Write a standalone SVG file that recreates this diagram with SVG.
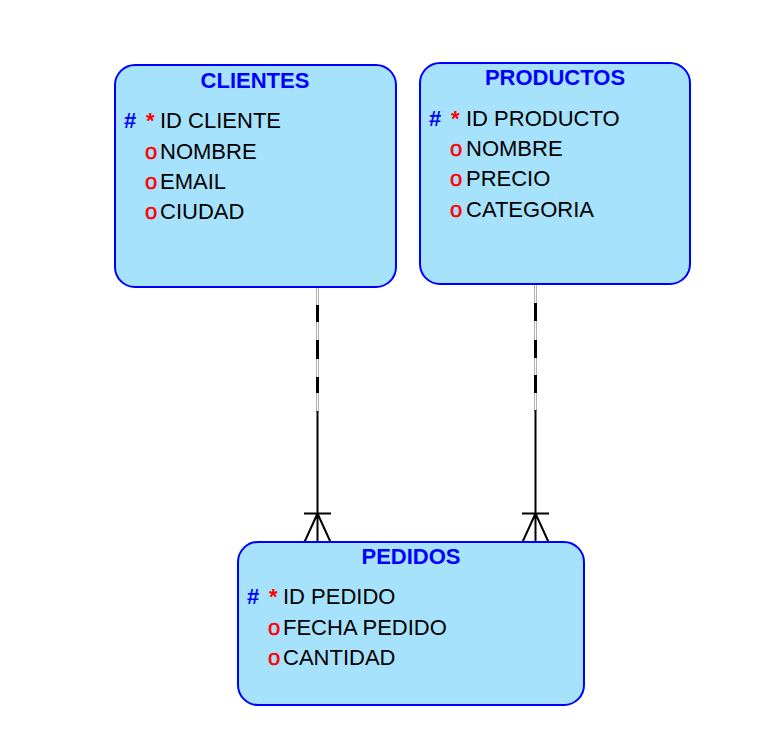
<svg xmlns="http://www.w3.org/2000/svg" width="773" height="756" viewBox="0 0 773 756">
<style>
.box{fill:#a6e2fc;stroke:#0000ff;stroke-width:2}
.t{font-family:"Liberation Sans",Arial,sans-serif;font-size:22px;font-weight:bold;fill:#0000ff;text-anchor:middle}
.a{font-family:"Liberation Sans",Arial,sans-serif;font-size:22px;fill:#000}
.h{font-family:"Liberation Sans",Arial,sans-serif;font-size:22px;font-weight:bold;fill:#0000ff}
.s{font-family:"Liberation Sans",Arial,sans-serif;font-size:22px;font-weight:bold;fill:#ff0000}
.o{font-family:"Liberation Sans",Arial,sans-serif;font-size:22px;fill:#ff0000;stroke:#ff0000;stroke-width:0.5}
.g1{stroke:#b0b0b0;stroke-width:3;fill:none}
.g2{stroke:#fff;stroke-width:1;fill:none}
.ln{stroke:#000;stroke-width:2;fill:none}
.dash{stroke:#000;stroke-width:3;fill:none}
</style>
<rect width="773" height="756" fill="#fff"/>
<g id="connectors">
<g id="c1">
<line class="g1" x1="317.5" y1="288" x2="317.5" y2="412"/>
<line class="g2" x1="317.5" y1="288" x2="317.5" y2="412"/>
<path class="dash" d="M317.5 305V322M317.5 340V359M317.5 377V393"/>
<path class="ln" d="M317.5 411V542M304 513.5H331M317.5 513.5L304.5 542M317.5 513.5L330.5 542"/>
</g>
<g id="c2">
<line class="g1" x1="535.5" y1="285" x2="535.5" y2="411"/>
<line class="g2" x1="535.5" y1="285" x2="535.5" y2="411"/>
<path class="dash" d="M535.5 303V321M535.5 340V358M535.5 375V393"/>
<path class="ln" d="M535.5 410V542M522 513.5H549M535.5 513.5L522.5 542M535.5 513.5L548.5 542"/>
</g>
</g>
<g id="clientes">
<rect class="box" x="115" y="65" width="281" height="222" rx="20"/>
<text class="t" x="255" y="88">CLIENTES</text>
<text class="h" x="124" y="128">#</text><text class="s" x="146" y="128">*</text><text class="a" x="160" y="128">ID CLIENTE</text>
<text class="o" x="145" y="159">o</text><text class="a" x="160" y="159">NOMBRE</text>
<text class="o" x="145" y="189">o</text><text class="a" x="160" y="189">EMAIL</text>
<text class="o" x="145" y="219">o</text><text class="a" x="160" y="219">CIUDAD</text>
</g>
<g id="productos">
<rect class="box" x="420" y="63" width="270" height="221" rx="20"/>
<text class="t" x="555" y="85">PRODUCTOS</text>
<text class="h" x="429" y="126">#</text><text class="s" x="451" y="126">*</text><text class="a" x="466" y="126">ID PRODUCTO</text>
<text class="o" x="450" y="156">o</text><text class="a" x="466" y="156">NOMBRE</text>
<text class="o" x="450" y="186">o</text><text class="a" x="466" y="186">PRECIO</text>
<text class="o" x="450" y="217">o</text><text class="a" x="466" y="217">CATEGORIA</text>
</g>
<g id="pedidos">
<rect class="box" x="238" y="542" width="346" height="163" rx="20"/>
<text class="t" x="411" y="564">PEDIDOS</text>
<text class="h" x="247" y="604">#</text><text class="s" x="269" y="604">*</text><text class="a" x="283" y="604">ID PEDIDO</text>
<text class="o" x="268" y="635">o</text><text class="a" x="283" y="635">FECHA PEDIDO</text>
<text class="o" x="268" y="665">o</text><text class="a" x="283" y="665">CANTIDAD</text>
</g>
</svg>
